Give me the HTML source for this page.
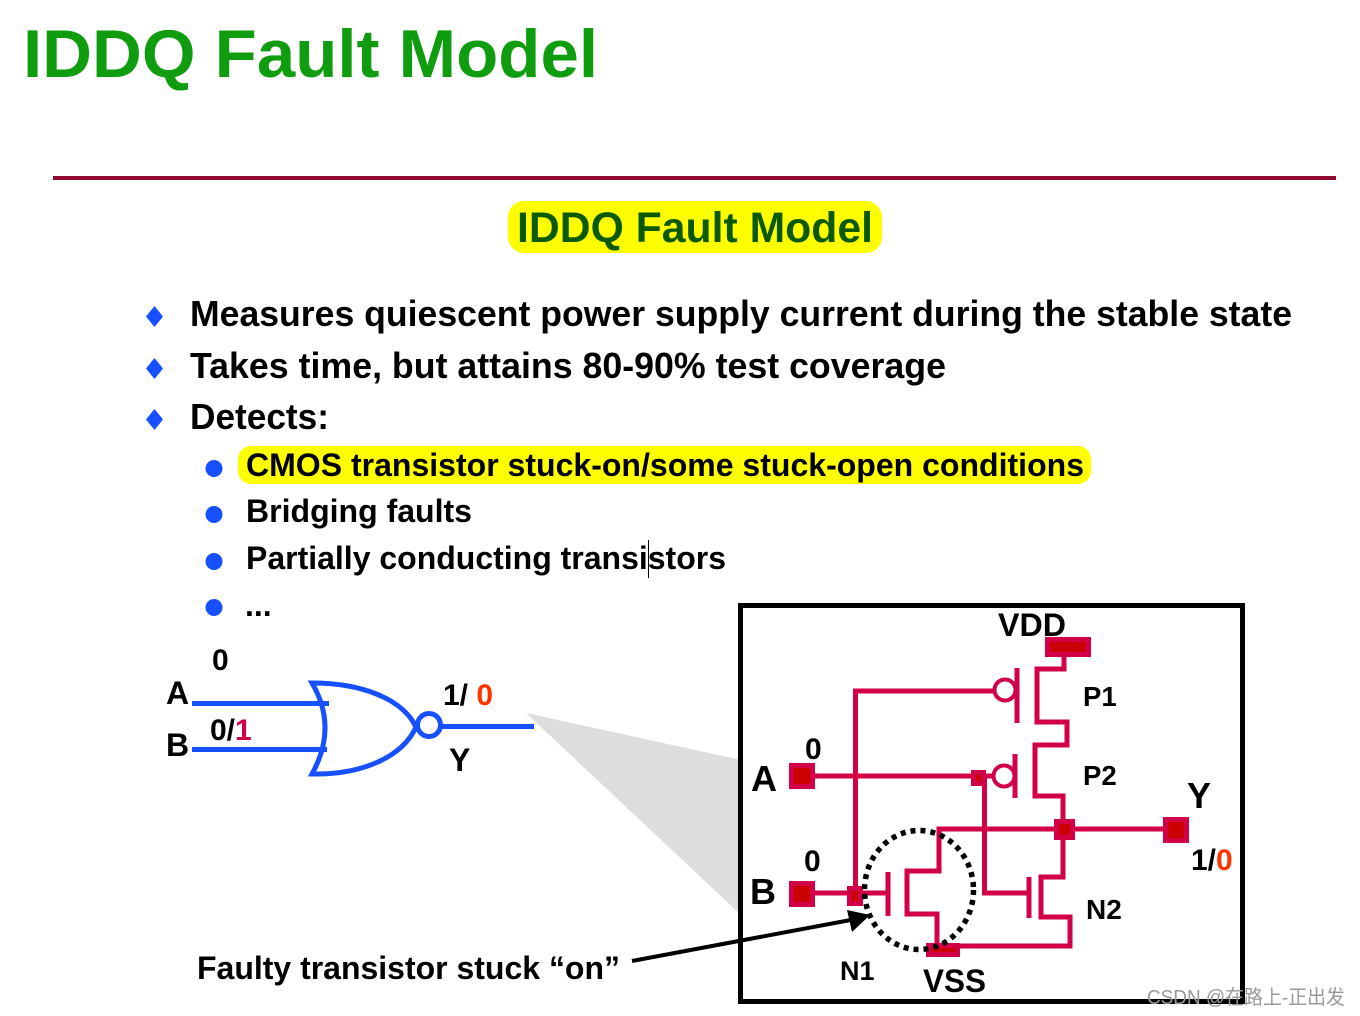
<!DOCTYPE html>
<html><head><meta charset="utf-8"><style>
html,body{margin:0;padding:0;background:#fff;width:1360px;height:1016px;overflow:hidden}
svg{display:block}
text{font-family:"Liberation Sans","Noto Sans CJK SC",sans-serif;font-weight:bold;fill:#000}
.w{fill:none;stroke:#d10047;stroke-width:5}
.p{fill:#cc0000;stroke:#d10047;stroke-width:5}
.b{fill:none;stroke:#1650ff;stroke-width:5}
</style></head><body>
<svg width="1360" height="1016" viewBox="0 0 1360 1016" xmlns="http://www.w3.org/2000/svg">
<text x="23" y="77" font-size="68" textLength="575" lengthAdjust="spacingAndGlyphs" style="fill:#0f9d0f">IDDQ Fault Model</text>
<rect x="53" y="176" width="1283" height="4" fill="#8f0a30"/>
<rect x="508" y="201" width="374" height="52" rx="16" fill="#ffff00"/>
<text x="517" y="242" font-size="43" textLength="356" lengthAdjust="spacingAndGlyphs" style="fill:#0b5a00">IDDQ Fault Model</text>

<g fill="#1650ff">
<polygon points="154.500,306 163,316.500 154.500,327 146,316.500"/>
<polygon points="154.500,358 163,368.500 154.500,379 146,368.500"/>
<polygon points="154.500,409 163,419.500 154.500,430 146,419.500"/>
<circle cx="214" cy="468.500" r="8.500"/><circle cx="214" cy="514.500" r="8.500"/><circle cx="214" cy="561.500" r="8.500"/><circle cx="214" cy="607.500" r="8.500"/>
</g>
<text x="190" y="326" font-size="36" textLength="1102" lengthAdjust="spacingAndGlyphs">Measures quiescent power supply current during the stable state</text>
<text x="190" y="378" font-size="36" textLength="756" lengthAdjust="spacingAndGlyphs">Takes time, but attains 80-90% test coverage</text>
<text x="190" y="429" font-size="36" textLength="139" lengthAdjust="spacingAndGlyphs">Detects:</text>
<rect x="238" y="446" width="853" height="38" rx="13" fill="#ffff00"/>
<text x="246" y="476" font-size="32" textLength="838" lengthAdjust="spacingAndGlyphs">CMOS transistor stuck-on/some stuck-open conditions</text>
<text x="246" y="522" font-size="32" textLength="226" lengthAdjust="spacingAndGlyphs">Bridging faults</text>
<text x="246" y="569" font-size="32" textLength="480" lengthAdjust="spacingAndGlyphs">Partially conducting transistors</text>
<rect x="648" y="540" width="1" height="38" fill="#000"/>
<text x="245" y="616" font-size="32">...</text>

<polygon points="526,713 741,760 741,915" fill="#dddddd"/>

<line class="b" x1="192" y1="703.500" x2="329" y2="703.500"/>
<line class="b" x1="192" y1="749.500" x2="327" y2="749.500"/>
<path class="b" d="M312,683 Q338,727 312,774 C360,775 402,758 416,727 C402,698 360,683 312,683 Z"/>
<circle class="b" cx="429" cy="725" r="11.500" style="fill:#fff"/>
<line class="b" x1="441" y1="726.500" x2="534" y2="726.500"/>
<text x="212" y="670" font-size="30">0</text>
<text x="166" y="704" font-size="32">A</text>
<text x="166" y="756" font-size="32">B</text>
<text x="210" y="740" font-size="30">0/<tspan style="fill:#d10047">1</tspan></text>
<text x="443" y="705" font-size="30">1/ <tspan style="fill:#ff3300">0</tspan></text>
<text x="449" y="771" font-size="32">Y</text>

<rect x="740.500" y="605.500" width="502" height="396" fill="none" stroke="#000" stroke-width="5"/>

<path class="w" d="M1064,657V669H1037V722H1067V745H1035V796H1063V877H1041V917H1070V946H950"/>
<path class="w" d="M855.500,895V691H994"/>
<path class="w" d="M815,776H994"/>
<path class="w" d="M984.500,776V893H1029"/>
<path class="w" d="M815,893H888"/>
<path class="w" d="M1064,829H1163"/>
<path class="w" d="M1064,829H939V871H907V914H937V945"/>
<line class="w" x1="1017" y1="668" x2="1017" y2="723"/>
<line class="w" x1="1015" y1="754" x2="1015" y2="798"/>
<line class="w" x1="888" y1="872" x2="888" y2="916"/>
<line class="w" x1="1029" y1="877" x2="1029" y2="918"/>
<circle class="w" cx="1005" cy="690" r="10.500" style="fill:#fff;stroke-width:4"/>
<circle class="w" cx="1004" cy="776" r="10.500" style="fill:#fff;stroke-width:4"/>
<rect class="p" x="1047.500" y="639.500" width="41" height="15"/>
<rect class="p" x="791.500" y="765.500" width="21" height="21"/>
<rect class="p" x="791.500" y="883.500" width="21" height="21"/>
<rect class="p" x="973.500" y="772.500" width="10" height="11"/>
<rect class="p" x="849.500" y="888.500" width="11" height="15"/>
<rect class="p" x="1056.500" y="821.500" width="16" height="16"/>
<rect class="p" x="1165.500" y="819.500" width="21" height="21"/>
<rect class="p" x="928.500" y="945.500" width="29" height="9"/>
<ellipse cx="919" cy="890" rx="54.500" ry="59.500" fill="none" stroke="#000" stroke-width="5.500" stroke-dasharray="5 5"/>

<line x1="632" y1="961" x2="856" y2="919" stroke="#000" stroke-width="4"/>
<polygon points="870,915 847,910 852,932" fill="#000"/>

<text x="998" y="636" font-size="32" textLength="68" lengthAdjust="spacingAndGlyphs">VDD</text>
<text x="1083" y="706" font-size="27.500">P1</text>
<text x="1083" y="785" font-size="27.500">P2</text>
<text x="805" y="759" font-size="30">0</text>
<text x="751" y="791" font-size="36">A</text>
<text x="804" y="871" font-size="30">0</text>
<text x="750" y="904" font-size="36">B</text>
<text x="1187" y="808" font-size="36">Y</text>
<text x="1191" y="870" font-size="30">1/<tspan style="fill:#ff3300">0</tspan></text>
<text x="1086" y="919" font-size="28">N2</text>
<text x="840" y="980" font-size="27">N1</text>
<text x="923" y="992" font-size="32" textLength="63" lengthAdjust="spacingAndGlyphs">VSS</text>
<text x="197" y="979" font-size="32" textLength="423" lengthAdjust="spacingAndGlyphs">Faulty transistor stuck “on”</text>
<text x="1147" y="1004" font-size="20" textLength="198" lengthAdjust="spacingAndGlyphs" style="font-weight:normal;fill:#999">CSDN @在路上-正出发</text>
</svg>
</body></html>
